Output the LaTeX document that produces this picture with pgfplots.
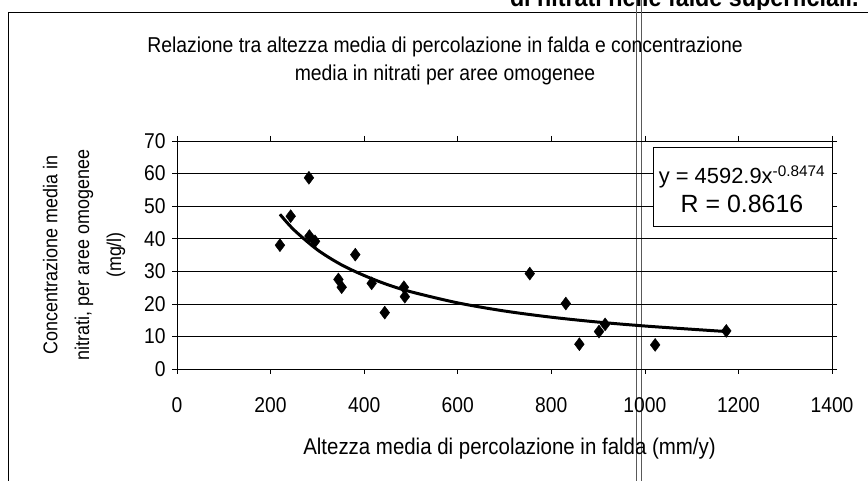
\documentclass[border=0pt]{standalone}
\usepackage{pgfplots}
\pgfplotsset{compat=1.18}
\usepackage{fontspec}
\setmainfont{Liberation Sans}[FakeStretch=0.9]
\newfontfamily\boxfont{Liberation Sans}
\begin{document}
\begin{tikzpicture}[x=1bp,y=1bp]
\useasboundingbox (0,0) rectangle (868,481);
% frame of chart area
\draw[line width=0.8pt] (8,469) -- (868,469);
\draw[line width=0.8pt] (8,469) -- (8,0);
% scan fold
\draw[line width=0.6pt,gray!70!black] (636,481) -- (636,0);
\draw[line width=0.6pt,gray!70!black] (641,481) -- (641,0);
% cut top heading
\begin{scope}
\clip (0,471) rectangle (868,481);
\node[anchor=base east,font=\fontsize{26}{28}\selectfont\bfseries] at (862,474) {di nitrati nelle falde superficiali.};
\end{scope}
% title
\node[align=center,font=\fontsize{21.6}{28}\selectfont] at (445,420) {Relazione tra altezza media di percolazione in falda e concentrazione\\media in nitrati per aree omogenee};
\begin{axis}[
  at={(177bp,112bp)}, anchor=south west,
  scale only axis, width=655bp, height=228bp,
  xmin=0, xmax=1400, ymin=0, ymax=70,
  xtick={0,200,...,1400}, ytick={0,10,...,70},
  tick align=outside, major tick length=5bp,
  tick style={black, line width=0.6pt},
  axis line style={line width=0.8pt},
  ymajorgrids, grid style={black, line width=0.6pt},
  tick label style={font=\fontsize{21.5}{22}\selectfont},
  /pgf/number format/assume math mode=true,
  /pgf/number format/1000 sep={},
  xticklabel style={yshift=-20bp},
  yticklabel style={xshift=-3bp},
  xlabel={Altezza media di percolazione in falda (mm/y)},
  xlabel style={font=\fontsize{22.8}{24}\selectfont, yshift=-19bp, xshift=5bp},
  ylabel={Concentrazione media in\\nitrati, per aree omogenee\\(mg/l)},
  ylabel style={font=\fontsize{20}{32}\selectfont, align=center, yshift=12bp},
  clip=false,
]
\addplot[only marks, mark=diamond*, mark size=6.5bp, black] coordinates {
(220,38.0) (243,46.9) (282,58.7) (283,40.8) (295,39.2) (381,35.1)
(345,27.5) (352,25.1) (416,26.3) (444,17.3) (485,25.1) (487,22.2)
(754,29.3) (831,20.1) (860,7.6) (902,11.5) (915,13.7) (1022,7.4) (1174,11.7)
};
\addplot[black, line width=3pt, smooth] coordinates {
(220,47.5) (250,42.7) (300,36.6) (350,32.1) (400,28.7) (450,25.9) (500,23.7)
(600,20.3) (700,17.8) (800,15.9) (900,14.4) (1000,13.2) (1100,12.2) (1174,11.5)
};
\end{axis}
% equation box
\draw[fill=white, line width=0.8pt] (653,255) rectangle (832,334);
\node[font=\boxfont\fontsize{22}{24}\selectfont] at (742,304) {y = 4592.9x\textsuperscript{-0.8474}};
\node[font=\boxfont\fontsize{25}{26}\selectfont] at (742,277) {R = 0.8616};
\end{tikzpicture}
\end{document}
